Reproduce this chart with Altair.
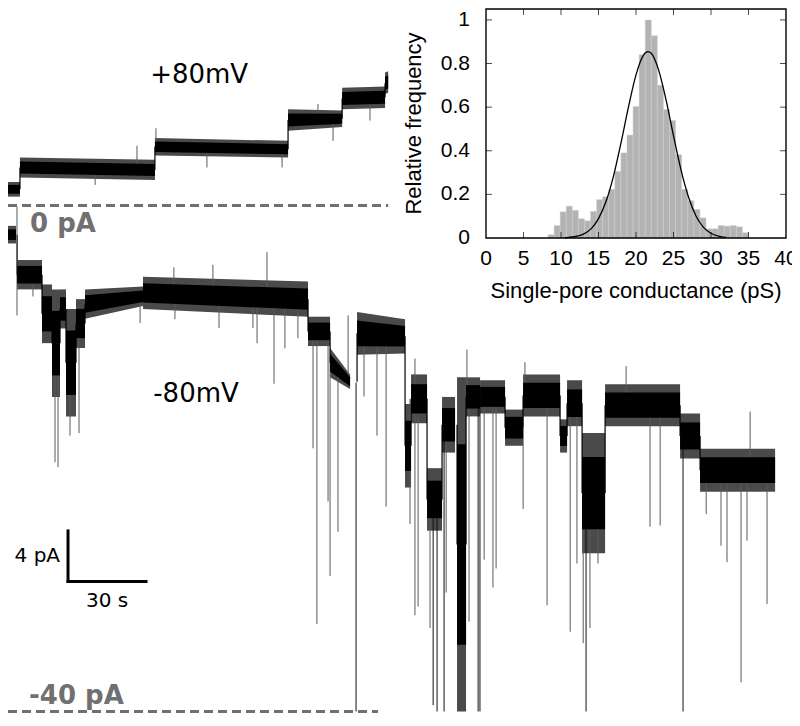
import altair as alt
import pandas as pd

# ---------------- inset histogram ----------------
bin_left = [8.27, 9.08, 9.89, 10.70, 11.51, 12.32, 13.13, 13.94, 14.75, 15.56,
            16.37, 17.18, 17.99, 18.80, 19.61, 20.42, 21.23, 22.04, 22.85, 23.66,
            24.47, 25.28, 26.09, 26.90, 27.71, 28.52, 29.33, 30.14, 30.95, 31.76,
            32.57, 33.38, 34.19]
bin_width = 0.81
bin_freq = [0.015, 0.057, 0.120, 0.146, 0.127, 0.088, 0.079, 0.122, 0.176, 0.189,
            0.223, 0.305, 0.390, 0.472, 0.603, 0.840, 1.000, 0.927, 0.700, 0.589,
            0.539, 0.382, 0.223, 0.171, 0.131, 0.092, 0.042, 0.042, 0.057, 0.054,
            0.057, 0.051, 0.024]
fit_x = [10.5, 11, 12, 13, 14, 15, 16, 17, 18, 19, 20, 21, 21.6, 22, 23, 24, 25,
         26, 27, 28, 29, 30, 31, 32]
fit_y = [0.0, 0.003, 0.007, 0.018, 0.042, 0.089, 0.167, 0.284, 0.436, 0.601, 0.748,
         0.839, 0.855, 0.848, 0.772, 0.634, 0.469, 0.312, 0.188, 0.101, 0.049,
         0.022, 0.009, 0.003]
hist_x_ticks = [0, 5, 10, 15, 20, 25, 30, 35, 40]
hist_y_ticks = [0, 0.2, 0.4, 0.6, 0.8, 1]
hist_x_range = [0, 40]
hist_y_range = [0, 1.05]
hist_x_title = "Single-pore conductance (pS)"
hist_y_title = "Relative frequency"

# ---------------- current traces (time in s, current in pA) ----------------
# (t_start, t_end, top_start, bottom_start, top_end, bottom_end)
plus80_levels = [
    (0.0, 4.6, 1.85, 0.69, 1.85, 0.69),
    (4.6, 56.5, 3.78, 2.20, 3.60, 2.00),
    (56.5, 107.7, 5.33, 3.94, 5.10, 3.78),
    (107.7, 128.5, 7.60, 5.90, 7.50, 6.20),
    (128.5, 145.0, 9.30, 7.60, 9.40, 7.70),
    (145.0, 146.2, 10.50, 8.80, 10.60, 8.90),
]
minus80_levels = [
    (0.0, 3.08, -1.62, -3.01, -1.62, -3.01),
    (3.5, 13.08, -4.32, -6.64, -4.32, -6.64),
    (13.08, 16.92, -6.25, -10.89, -6.25, -10.89),
    (16.92, 20.0, -6.64, -15.14, -6.64, -15.14),
    (20.0, 22.31, -6.64, -9.73, -6.64, -9.73),
    (22.31, 26.15, -8.19, -16.68, -8.19, -16.68),
    (26.15, 29.62, -7.41, -11.27, -7.41, -11.27),
    (29.62, 51.92, -6.64, -8.96, -6.41, -7.95),
    (51.92, 115.38, -5.64, -8.19, -6.02, -8.80),
    (115.38, 123.85, -8.80, -11.12, -8.80, -11.12),
    (123.85, 131.54, -11.27, -13.59, -13.36, -14.52),
    (134.23, 152.69, -8.42, -11.81, -9.00, -11.70),
    (152.69, 155.0, -15.70, -22.30, -15.70, -22.30),
    (155.0, 161.15, -13.36, -17.22, -13.36, -17.22),
    (161.15, 166.92, -20.77, -25.71, -20.77, -25.71),
    (166.92, 171.92, -15.14, -19.54, -15.14, -19.54),
    (172.69, 176.15, -13.59, -40.00, -13.59, -40.00),
    (176.15, 181.54, -13.59, -16.68, -13.59, -16.68),
    (181.54, 191.15, -13.82, -16.45, -13.82, -16.45),
    (191.15, 198.08, -16.14, -19.00, -16.14, -19.00),
    (198.08, 212.31, -13.36, -16.68, -13.36, -16.68),
    (212.31, 215.0, -16.91, -19.54, -16.91, -19.54),
    (215.0, 220.77, -13.82, -17.45, -13.82, -17.45),
    (220.77, 229.62, -17.99, -27.49, -17.99, -27.49),
    (229.62, 258.46, -14.13, -17.45, -14.13, -17.45),
    (258.46, 266.15, -16.45, -20.00, -16.45, -20.00),
    (266.15, 295.0, -19.23, -22.63, -19.23, -22.63),
]
# (time, level it leaves from, tip of the spike)
plus80_spikes = [
    (33.5, 2.9, 1.62), (49.6, 2.9, 4.71), (56.9, 4.5, 6.1), (76.5, 4.5, 3.0),
    (105.4, 4.5, 3.0), (119.2, 6.8, 8.0), (125.0, 6.8, 5.1), (139.2, 8.5, 6.7),
]
minus80_spikes = [
    (3.46, -0.1, -8.7), (9.6, -5.5, -7.2), (18.08, -10.9, -20.3), (19.23, -10.9, -20.7),
    (23.85, -12.4, -18.2), (27.31, -9.3, -18.0), (50.8, -7.5, -9.3), (63.8, -7.0, -4.9),
    (64.2, -7.0, -9.0), (78.8, -7.0, -4.7), (81.15, -7.0, -9.7), (94.2, -7.0, -9.7),
    (95.77, -7.0, -10.9), (99.6, -7.0, -3.7), (102.3, -7.0, -14.1), (106.5, -7.0, -11.3),
    (111.5, -7.2, -10.5), (117.3, -10.0, -19.2), (118.8, -10.0, -33.1), (123.08, -10.0, -23.4),
    (123.85, -12.0, -29.3), (126.9, -12.5, -25.8), (130.8, -13.5, -8.7), (133.85, -14.0, -40.0),
    (136.9, -10.0, -15.1), (141.9, -10.0, -18.2), (145.4, -10.0, -23.8), (154.6, -15.3, -25.2),
    (156.5, -15.3, -32.4), (156.5, -15.3, -12.1), (157.7, -15.3, -31.7), (162.3, -23.0, -33.4),
    (163.5, -23.0, -39.5), (165.0, -23.0, -40.0), (167.7, -17.3, -40.0), (168.5, -17.3, -30.6),
    (176.5, -15.1, -11.4), (177.3, -15.1, -32.9), (180.8, -15.1, -40.0), (181.5, -15.1, -40.0),
    (183.1, -15.1, -28.0), (186.5, -15.1, -30.2), (187.7, -15.1, -28.7), (198.1, -17.6, -24.0),
    (198.8, -15.0, -12.4), (207.3, -15.0, -31.6), (216.2, -15.6, -33.7), (218.8, -15.6, -28.3),
    (221.2, -22.7, -34.6), (222.3, -22.7, -40.0), (223.8, -22.7, -33.4), (226.9, -22.7, -28.3),
    (237.7, -15.8, -12.7), (246.9, -15.8, -25.4), (250.8, -15.8, -25.3), (259.6, -18.2, -40.0),
    (268.5, -20.9, -24.4), (274.2, -20.9, -26.9), (276.5, -20.9, -28.2), (281.9, -20.9, -37.7),
    (284.2, -20.9, -26.5), (285.4, -20.9, -16.3), (291.9, -20.9, -31.5),
]
# zero-current references: (label, current, t_start, t_end)
ref_lines = [("0 pA", 0.0, 0.0, 146.2), ("-40 pA", -40.0, 0.0, 142.3)]
ref_label_pos = [(8.46, -1.5), (8.1, -38.76)]
voltage_labels = ["+80mV", "-80mV"]
voltage_pos = [(73.5, 10.27), (72.3, -14.9)]
# scale bar
bar_origin = (23.08, -29.73)
bar_time = 30   # s
bar_current = 4  # pA

# ---------------- scales (shared page geometry) ----------------
W, H = 784, 706
ts = alt.Scale(domain=[0, 301.5], nice=False, zero=False)
cs = alt.Scale(domain=[-40.2, 15.6], nice=False, zero=False)
hxs = alt.Scale(domain=[-63.73, 40.8], nice=False, zero=False)
hys = alt.Scale(domain=[-2.1825, 1.0546], nice=False, zero=False)


def tx(f):
    return alt.X(f, type="quantitative", scale=ts, axis=None)


def cy(f):
    return alt.Y(f, type="quantitative", scale=cs, axis=None)


def hx(f):
    return alt.X(f, type="quantitative", scale=hxs, axis=None)


def hy(f):
    return alt.Y(f, type="quantitative", scale=hys, axis=None)


# ---------------- trace layers ----------------
CORE = 0.3  # fraction of the noise envelope drawn as solid core on each side of centre
band_rows, core_rows, link_rows = [], [], []
for name, levels in (("p", plus80_levels), ("m", minus80_levels)):
    for i, (t0, t1, h0, l0, h1, l1) in enumerate(levels):
        seg = f"{name}{i}"
        band_rows.append({"seg": seg, "t": t0, "hi": h0, "lo": l0})
        band_rows.append({"seg": seg, "t": t1, "hi": h1, "lo": l1})
        c0, c1 = (h0 + l0) / 2, (h1 + l1) / 2
        core_rows.append({"seg": seg, "t": t0, "hi": c0 + CORE * (h0 - l0), "lo": c0 - CORE * (h0 - l0)})
        core_rows.append({"seg": seg, "t": t1, "hi": c1 + CORE * (h1 - l1), "lo": c1 - CORE * (h1 - l1)})
        if i > 0:
            p = levels[i - 1]
            link_rows.append({"t": t0, "a": (p[4] + p[5]) / 2, "b": c0})
bands = pd.DataFrame(band_rows)
cores = pd.DataFrame(core_rows)
links = pd.DataFrame(link_rows)

spike_rows = [{"t": t, "a": a, "b": b, "deep": b <= -39.5}
              for t, a, b in plus80_spikes + minus80_spikes]
spikes = pd.DataFrame(spike_rows)

band_chart = alt.Chart(bands).mark_area(color="#4a4a4a").encode(
    x=tx("t"), y=cy("hi"), y2="lo", detail="seg:N")
core_chart = alt.Chart(cores).mark_area(color="black").encode(
    x=tx("t"), y=cy("hi"), y2="lo", detail="seg:N")
link_chart = alt.Chart(links).mark_rule(color="black", strokeWidth=1.2).encode(
    x=tx("t"), y=cy("a"), y2="b")

spike_chart = alt.Chart(spikes).mark_rule(strokeWidth=1).encode(
    x=tx("t"), y=cy("a"), y2="b",
    color=alt.condition("datum.deep", alt.value("#111111"), alt.value("#5a5a5a")),
)

refs = pd.DataFrame([{"lab": l, "c": c, "t0": a, "t1": b} for l, c, a, b in ref_lines])
ref_chart = alt.Chart(refs).mark_rule(
    color="#707070", strokeWidth=3, strokeDash=[9, 5]
).encode(x=tx("t0"), x2="t1", y=cy("c"))

ref_text = pd.DataFrame([{"lab": l, "t": p[0], "c": p[1]}
                         for (l, _, _, _), p in zip(ref_lines, ref_label_pos)])
ref_text_chart = alt.Chart(ref_text).mark_text(
    font="DejaVu Sans", fontSize=26, fontWeight="bold", color="#707070",
    align="left", baseline="middle"
).encode(x=tx("t"), y=cy("c"), text="lab:N")

volt = pd.DataFrame([{"lab": l, "t": p[0], "c": p[1]}
                     for l, p in zip(voltage_labels, voltage_pos)])
volt_chart = alt.Chart(volt).mark_text(
    font="DejaVu Sans", fontSize=26, color="black", align="center", baseline="middle"
).encode(x=tx("t"), y=cy("c"), text="lab:N")

bx, by = bar_origin
bar_df = pd.DataFrame([
    {"t0": bx, "t1": bx, "c0": by, "c1": by + bar_current},
    {"t0": bx, "t1": bx + bar_time, "c0": by, "c1": by},
])
bar_chart = alt.Chart(bar_df).mark_rule(color="black", strokeWidth=3, strokeCap="square").encode(
    x=tx("t0"), x2="t1", y=cy("c0"), y2="c1")
bar_lab = pd.DataFrame([{"lab": f"{bar_current} pA", "t": bx, "c": by + bar_current / 2}])
bar_lab2 = pd.DataFrame([{"lab": f"{bar_time} s", "t": bx + bar_time / 2, "c": by}])
bar_text1 = alt.Chart(bar_lab).mark_text(
    font="DejaVu Sans", fontSize=20, align="right", baseline="middle", dx=-8
).encode(x=tx("t"), y=cy("c"), text="lab:N")
bar_text2 = alt.Chart(bar_lab2).mark_text(
    font="DejaVu Sans", fontSize=20, align="center", baseline="middle", dy=19
).encode(x=tx("t"), y=cy("c"), text="lab:N")

traces = alt.layer(band_chart, link_chart, spike_chart, core_chart, ref_chart,
                   ref_text_chart, volt_chart, bar_chart, bar_text1, bar_text2)

# ---------------- histogram layers ----------------
hist_df = pd.DataFrame({"l": bin_left, "r": [b + bin_width for b in bin_left],
                        "f": bin_freq, "z": [0.0] * len(bin_left)})
bars = alt.Chart(hist_df).mark_rect(color="#b3b3b3", stroke="#cfcfcf", strokeWidth=0.5).encode(
    x=hx("l"), x2="r", y=hy("z"), y2="f")
fit_df = pd.DataFrame({"x": fit_x, "y": fit_y})
fit = alt.Chart(fit_df).mark_line(color="black", strokeWidth=1.3, interpolate="monotone").encode(
    x=hx("x"), y=hy("y"))
frame_df = pd.DataFrame([{"x0": hist_x_range[0], "x1": hist_x_range[1],
                          "y0": hist_y_range[0], "y1": hist_y_range[1]}])
frame = alt.Chart(frame_df).mark_rect(fillOpacity=0, stroke="black", strokeWidth=1.4).encode(
    x=hx("x0"), x2="x1", y=hy("y0"), y2="y1")

xt = pd.DataFrame({"v": hist_x_ticks[1:-1], "b": hist_y_range[0], "t": hist_y_range[1]})
yt = pd.DataFrame({"v": hist_y_ticks[1:], "l": hist_x_range[0], "r": hist_x_range[1]})
tick_b = alt.Chart(xt).mark_tick(orient="vertical", size=6, thickness=1, color="black", yOffset=-3).encode(
    x=hx("v"), y=hy("b"))
tick_t = alt.Chart(xt).mark_tick(orient="vertical", size=6, thickness=1, color="black", yOffset=3).encode(
    x=hx("v"), y=hy("t"))
tick_l = alt.Chart(yt).mark_tick(orient="horizontal", size=6, thickness=1, color="black", xOffset=3).encode(
    x=hx("l"), y=hy("v"))
tick_r = alt.Chart(yt).mark_tick(orient="horizontal", size=6, thickness=1, color="black", xOffset=-3).encode(
    x=hx("r"), y=hy("v"))

xl = pd.DataFrame({"v": hist_x_ticks, "y": hist_y_range[0]})
yl = pd.DataFrame({"v": hist_y_ticks, "x": hist_x_range[0]})
xlab = alt.Chart(xl).mark_text(font="Liberation Sans", fontSize=21, baseline="middle",
                               align="center", dy=21).encode(
    x=hx("v"), y=hy("y"), text=alt.Text("v:Q", format="~g"))
ylab = alt.Chart(yl).mark_text(font="Liberation Sans", fontSize=21, baseline="middle",
                               align="right", dx=-16).encode(
    x=hx("x"), y=hy("v"), text=alt.Text("v:Q", format="~g"))

titles_x = pd.DataFrame([{"lab": hist_x_title, "x": sum(hist_x_range) / 2, "y": hist_y_range[0]}])
titles_y = pd.DataFrame([{"lab": hist_y_title, "x": hist_x_range[0], "y": sum(hist_y_range) / 2}])
xtitle = alt.Chart(titles_x).mark_text(font="Liberation Sans", fontSize=22, baseline="middle",
                                       align="center", dy=53).encode(
    x=hx("x"), y=hy("y"), text="lab:N")
ytitle = alt.Chart(titles_y).mark_text(font="Liberation Sans", fontSize=22, baseline="middle",
                                       align="center", angle=270, dy=-72).encode(
    x=hx("x"), y=hy("y"), text="lab:N")

hist = alt.layer(bars, fit, frame, tick_b, tick_t, tick_l, tick_r, xlab, ylab, xtitle, ytitle)

chart = alt.layer(traces, hist).resolve_scale(
    x="independent", y="independent"
).properties(
    width=W, height=H, autosize=alt.AutoSizeParams(type="none"), padding=0,
    background="white"
).configure_view(stroke=None)

chart.save("out.html", embed_options={"renderer": "svg", "actions": False})
